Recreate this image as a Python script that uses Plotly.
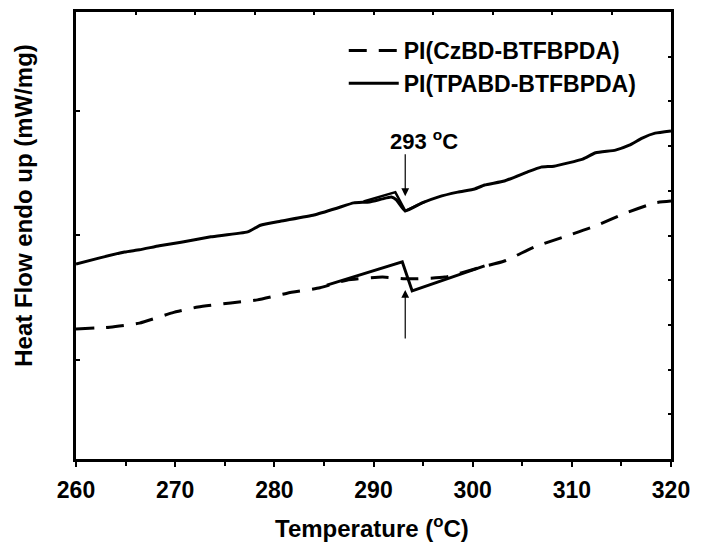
import plotly.graph_objects as go

# Temperature (°C) and heat flow (arbitrary units)
tpa_x = [260.0, 262.4, 264.9, 266.4, 268.4, 270.6, 273.6, 277.3, 278.6, 280.6, 284.0, 286.3,
         288.0, 289.6, 290.9, 291.8, 292.3, 293.2, 294.9, 296.5, 298.5, 300.2, 301.2, 303.2,
         305.5, 306.9, 308.2, 311.1, 312.4, 314.4, 315.8, 317.1, 318.4, 320.0]
tpa_y = [4.36, 4.50, 4.63, 4.68, 4.77, 4.85, 4.97, 5.08, 5.23, 5.32, 5.46, 5.61,
         5.73, 5.75, 5.82, 5.86, 5.80, 5.55, 5.73, 5.86, 5.97, 6.04, 6.13, 6.22,
         6.42, 6.53, 6.55, 6.71, 6.85, 6.91, 7.02, 7.18, 7.29, 7.34]

cz_x = [260.0, 263.4, 266.4, 269.7, 272.3, 275.6, 278.3, 281.3, 284.6, 287.3, 290.9, 293.5,
        297.2, 300.5, 303.2, 306.2, 309.2, 312.1, 315.4, 318.4, 320.0]
cz_y = [2.91, 2.95, 3.04, 3.27, 3.40, 3.49, 3.56, 3.71, 3.83, 4.00, 4.07, 4.03,
        4.07, 4.27, 4.43, 4.74, 4.97, 5.19, 5.50, 5.73, 5.77]

# Tangent construction lines at the glass transition
tan_low_x = [285.3, 292.9, 293.9, 301.2]
tan_low_y = [3.89, 4.41, 3.76, 4.32]
tan_up_x = [289.0, 292.2, 293.2, 295.2]
tan_up_y = [5.76, 5.97, 5.55, 5.76]

tg = 293.2
arrow_up = [6.85, 5.88]    # tail, head
arrow_low = [2.66, 3.78]   # tail, head

names = ["PI(CzBD-BTFBPDA)", "PI(TPABD-BTFBPDA)"]

FONT = "Liberation Sans, Arial, sans-serif"

fig = go.Figure()
fig.add_trace(go.Scatter(x=cz_x, y=cz_y, mode="lines", name=names[0],
                         line=dict(color="black", width=3, dash="18px,12px", shape="spline", smoothing=0.5)))
fig.add_trace(go.Scatter(x=tpa_x, y=tpa_y, mode="lines", name=names[1],
                         line=dict(color="black", width=3, shape="spline", smoothing=0.4)))
fig.add_trace(go.Scatter(x=tan_low_x, y=tan_low_y, mode="lines", showlegend=False,
                         line=dict(color="black", width=3)))
fig.add_trace(go.Scatter(x=tan_up_x, y=tan_up_y, mode="lines", showlegend=False,
                         line=dict(color="black", width=2.5)))
# invisible trace for the top / right axes
fig.add_trace(go.Scatter(x=[260, 320], y=[0, 10], xaxis="x2", yaxis="y2", mode="lines",
                         line=dict(width=0), showlegend=False, hoverinfo="skip"))

fig.add_annotation(x=tg, y=arrow_up[1], ax=tg, ay=arrow_up[0], xref="x", yref="y",
                   axref="x", ayref="y", text="", showarrow=True, arrowhead=2,
                   arrowsize=1.3, arrowwidth=1.2, arrowcolor="black")
fig.add_annotation(x=tg, y=arrow_low[1], ax=tg, ay=arrow_low[0], xref="x", yref="y",
                   axref="x", ayref="y", text="", showarrow=True, arrowhead=2,
                   arrowsize=1.3, arrowwidth=1.2, arrowcolor="black")
fig.add_annotation(x=295.1, y=7.14, xref="x", yref="y", text="293 <sup>o</sup>C", showarrow=False,
                   font=dict(family=FONT, size=22, color="black", weight="bold"))

fig.add_annotation(x=-0.0896, y=0.568, xref="paper", yref="paper", text="Heat Flow endo up (mW/mg)",
                   textangle=-90, showarrow=False, xanchor="center", yanchor="middle",
                   font=dict(family=FONT, size=24, color="black", weight="bold"))
fig.add_annotation(x=0.497, y=-0.152, xref="paper", yref="paper", text="Temperature (<sup>o</sup>C)",
                   showarrow=False, xanchor="center", yanchor="middle",
                   font=dict(family=FONT, size=24, color="black", weight="bold"))

fig.update_layout(
    width=702, height=547,
    margin=dict(l=76, r=23, t=12, b=88),
    paper_bgcolor="white", plot_bgcolor="white",
    font=dict(family=FONT, color="black"),
    showlegend=True,
    legend=dict(x=0.45, y=0.962, xanchor="left", yanchor="top", bgcolor="rgba(0,0,0,0)",
                font=dict(family=FONT, size=23, color="black", weight="bold"),
                itemwidth=50, tracegroupgap=0),
    xaxis=dict(range=[260, 320], tickvals=[260, 270, 280, 290, 300, 310, 320],
               ticks="outside", ticklen=5, tickwidth=2, tickcolor="black", ticklabelstandoff=3,
               showline=True, linewidth=3, linecolor="black", showgrid=False, zeroline=False,
               tickfont=dict(family=FONT, size=23, color="black", weight="bold"),
               minor=dict(tickvals=[265, 275, 285, 295, 305, 315], ticks="outside", ticklen=4,
                          tickwidth=2, tickcolor="black")),
    yaxis=dict(range=[0, 10], tickvals=[2.21, 5.01, 7.79], ticks="inside", ticklen=4,
               tickwidth=2, tickcolor="black", showticklabels=False,
               showline=True, linewidth=3, linecolor="black", showgrid=False, zeroline=False),
    xaxis2=dict(range=[260, 320], overlaying="x", side="top", dtick=6, tick0=260,
                ticks="inside", ticklen=3, tickwidth=1.5, tickcolor="black", showticklabels=False,
                showline=True, linewidth=3, linecolor="black", showgrid=False, zeroline=False),
    yaxis2=dict(range=[0, 10], overlaying="y", side="right", dtick=1, tick0=0,
                ticks="inside", ticklen=3, tickwidth=1.5, tickcolor="black", showticklabels=False,
                showline=True, linewidth=3, linecolor="black", showgrid=False, zeroline=False),
)

fig.write_html("out.html")
